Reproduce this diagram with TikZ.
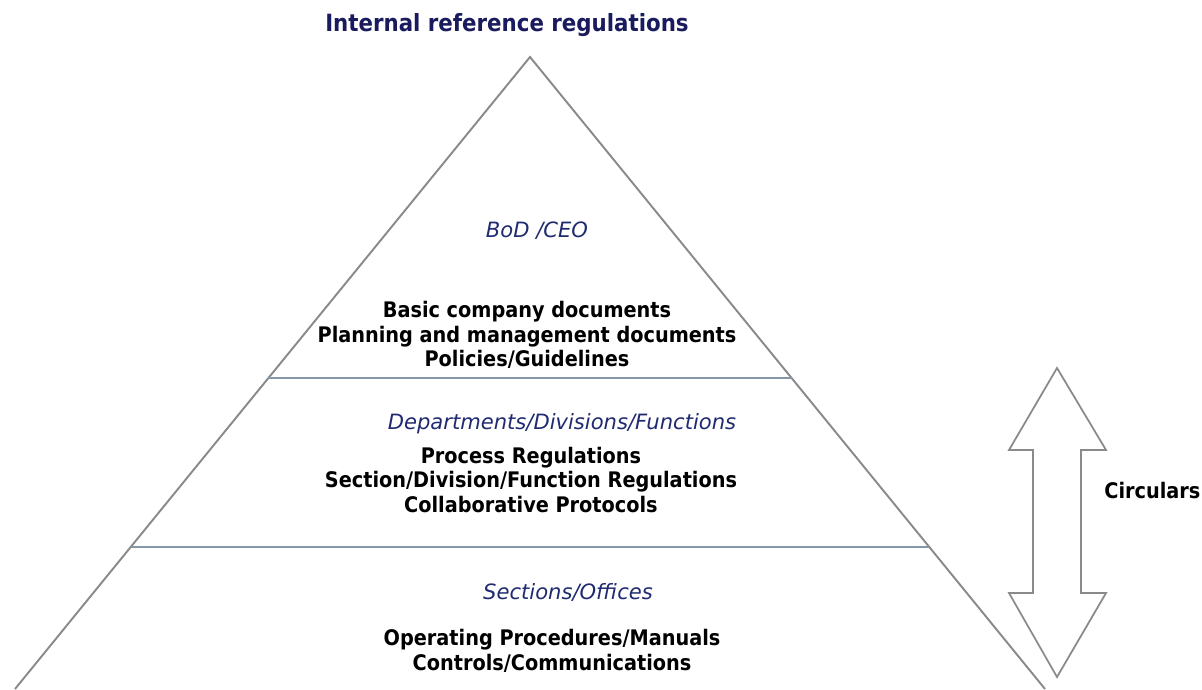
\documentclass[tikz,border=0pt]{standalone}
\usepackage{fontspec}
\setmainfont{DejaVu Sans}
\newfontfamily\condfont{DejaVu Sans Condensed}
\usetikzlibrary{calc}

\definecolor{titleblue}{HTML}{1A1A5E}
\definecolor{levelblue}{HTML}{1F2A70}
\definecolor{edgegray}{HTML}{8A8A8A}
\definecolor{rulegray}{HTML}{8797AA}

\begin{document}
\begin{tikzpicture}[x=0.02cm, y=-0.02cm, inner sep=0pt,
    level/.style={text=levelblue, font=\fontsize{12}{14}\selectfont\itshape},
    docs/.style={font=\condfont\fontsize{12.2}{13.9}\selectfont\bfseries, align=center},
    side/.style={edgegray, line width=1.1pt},
    divider/.style={rulegray, line width=0.9pt}]
    \useasboundingbox (0,0) rectangle (1202,689);

    % Title
    \node[text=titleblue, font=\condfont\fontsize{13.5}{15}\selectfont\bfseries] (title) at (507,25) {Internal reference regulations};

    % Pyramid outline
    \coordinate (apex) at (530,57);
    \coordinate (bl) at (15,689);
    \coordinate (br) at (1045,689);
    \draw[side] (bl) -- (apex) -- (br);

    % Level dividers
    \coordinate (d1l) at ($(apex)!0.5079!(bl)$);
    \coordinate (d1r) at ($(apex)!0.5079!(br)$);
    \coordinate (d2l) at ($(apex)!0.7753!(bl)$);
    \coordinate (d2r) at ($(apex)!0.7753!(br)$);
    \draw[divider] (d1l) -- (d1r);
    \draw[divider] (d2l) -- (d2r);

    % Top level
    \node[level] (bod) at (537,231) {BoD /CEO};
    \node[docs] (bodDocs) at (527,335) {Basic company documents\\Planning and management documents\\Policies/Guidelines};

    % Middle level
    \node[level] (dept) at (562,424) {Departments/Divisions/Functions};
    \node[docs] (deptDocs) at (531,480) {Process Regulations\\Section/Division/Function Regulations\\Collaborative Protocols};

    % Bottom level
    \node[level] (sect) at (568,592) {Sections/Offices};
    \node[docs] (sectDocs) at (552,651) {Operating Procedures/Manuals\\Controls/Communications};

    % Two-way arrow
    \draw[side, line width=1pt, line join=miter]
      (1057,368) -- (1106,450) -- (1081,450) -- (1081,593) -- (1106,593)
      -- (1057,677) -- (1009,593) -- (1033,593) -- (1033,450) -- (1009,450) -- cycle;
    \node[docs, anchor=west] (circ) at (1104,491) {Circulars};
\end{tikzpicture}
\end{document}
